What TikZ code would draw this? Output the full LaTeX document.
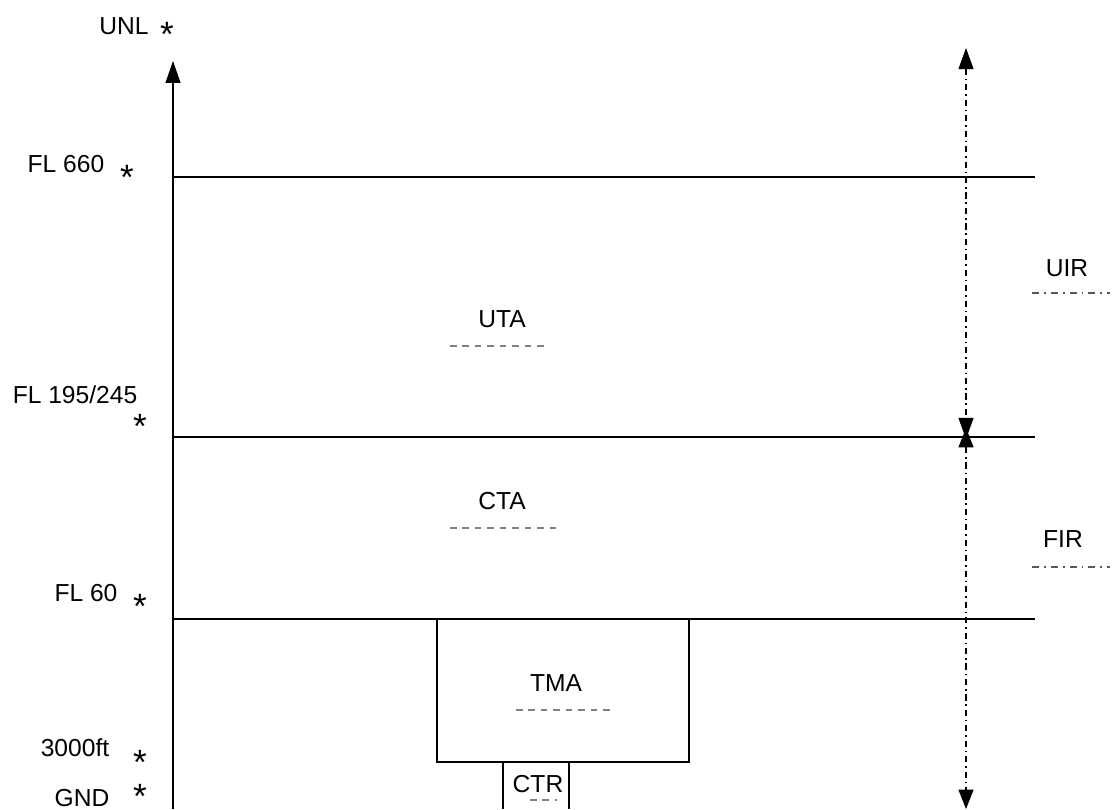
\documentclass[tikz,border=0pt]{standalone}
\usepackage{fontspec}
\setmainfont{Liberation Sans}
\usetikzlibrary{arrows.meta}

\begin{document}
\begin{tikzpicture}[
	x=0.02cm, y=-0.02cm,
	lbl/.style={anchor=base,inner sep=0pt,font=\fontsize{14}{16}\selectfont},
	star/.style={anchor=base,inner sep=0pt,font=\fontsize{20}{20}\selectfont},
	level/.style={line width=0.8pt},
	tip/.style={-{Triangle[length=12.5pt,width=8.5pt]}},
	dashdot/.style={line width=0.7pt,dash pattern=on 3.5pt off 2.2pt on 0.9pt off 2.2pt},
	tag/.style={draw=black!50,line width=0.7pt,dash pattern=on 3.7pt off 3.4pt},
	tagdd/.style={draw=black!65,line width=0.7pt,dash pattern=on 4pt off 2.8pt on 1.1pt off 2.8pt}
	]
	\useasboundingbox (0,0) rectangle (1112,809);
	% levels on the left
	\node[lbl]  (unl) at (124,34)  {UNL};
	\node[star] (unls) at (167,46)  {*};
	\node[lbl]  (fl660) at (66,172)  {FL 660};
	\node[star] (fl660s) at (127,189)  {*};
	\node[lbl]  (fl195) at (75,403)  {FL 195/245};
	\node[star] (fl195s) at (140,438)  {*};
	\node[lbl]  (fl60) at (86,601)  {FL 60};
	\node[star] (fl60s) at (140,618)  {*};
	\node[lbl]  (ft3000) at (75,756)  {3000ft};
	\node[star] (ft3000s) at (140,774)  {*};
	\node[lbl]  (gnd) at (82,806)  {GND};
	\node[star] (gnds) at (140,808)  {*};
	% airspaces
	\node[lbl]  (uta) at (502,327)  {UTA};
	\node[lbl]  (cta) at (502,509)  {CTA};
	\node[lbl]  (tma) at (556,691)  {TMA};
	\node[lbl]  (ctr) at (538,792)  {CTR};
	\node[lbl]  (uir) at (1067,276)  {UIR};
	\node[lbl]  (fir) at (1063,547)  {FIR};
	% corner points
	\coordinate (foot) at (173,809);
	\coordinate (head) at (173,61);
	\coordinate (a660) at (173,177);
	\coordinate (b660) at (1035,177);
	\coordinate (a195) at (173,437);
	\coordinate (b195) at (1035,437);
	\coordinate (a60) at (173,619);
	\coordinate (b60) at (1035,619);
	\coordinate (tma1) at (437,619);
	\coordinate (tma2) at (437,762);
	\coordinate (tma3) at (689,762);
	\coordinate (tma4) at (689,619);
	\coordinate (ctr1) at (503,809);
	\coordinate (ctr2) at (503,762);
	\coordinate (ctr3) at (569,762);
	\coordinate (ctr4) at (569,809);
	\coordinate (uirtop) at (966,48);
	\coordinate (uirbot) at (966,439);
	\coordinate (firtop) at (966,428);
	\coordinate (firbot) at (966,809);
	\coordinate (utal) at (450,346);
	\coordinate (utar) at (544,346);
	\coordinate (ctal) at (450,528);
	\coordinate (ctar) at (557,528);
	\coordinate (tmal) at (516,710);
	\coordinate (tmar) at (610,710);
	\coordinate (ctrl) at (530,800);
	\coordinate (ctrr) at (557,800);
	\coordinate (uirl) at (1032,293);
	\coordinate (uirr) at (1110,293);
	\coordinate (firl) at (1032,567);
	\coordinate (firr) at (1110,567);
	% lines
	\path[draw,level,tip]  (foot) -- (head);
	\path[draw,level]  (a660) -- (b660);
	\path[draw,level]  (a195) -- (b195);
	\path[draw,level]  (a60) -- (b60);
	\path[draw,level]  (tma1) -- (tma2) -- (tma3) -- (tma4);
	\path[draw,level]  (ctr1) -- (ctr2) -- (ctr3) -- (ctr4);
	\path[draw,dashdot,{Triangle[length=12pt,width=8.5pt]}-{Triangle[length=12pt,width=8.5pt]}]  (uirtop) -- (uirbot);
	\path[draw,dashdot,{Triangle[length=11pt,width=8.5pt]}-{Triangle[length=11pt,width=8.5pt]}]  (firtop) -- (firbot);
	\path[tag]  (utal) -- (utar);
	\path[tag]  (ctal) -- (ctar);
	\path[tag]  (tmal) -- (tmar);
	\path[tag]  (ctrl) -- (ctrr);
	\path[tagdd]  (uirl) -- (uirr);
	\path[tagdd]  (firl) -- (firr);
\end{tikzpicture}
\end{document}
